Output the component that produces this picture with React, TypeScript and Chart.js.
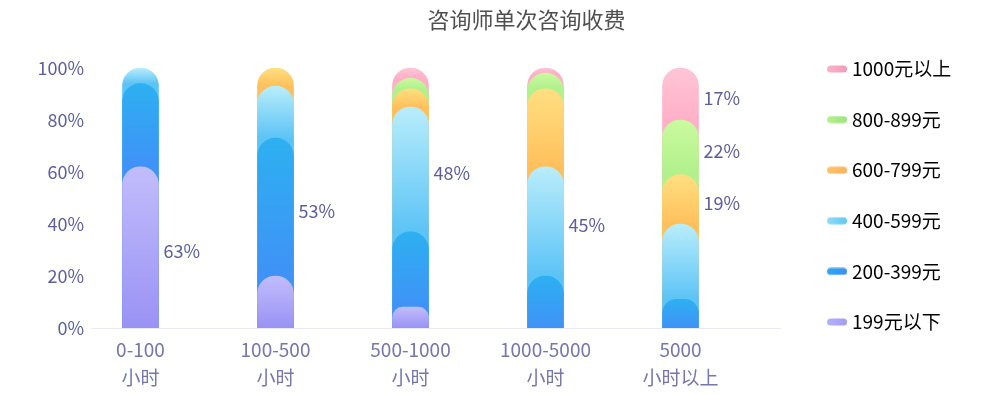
import React, { useEffect, useRef } from 'react';
import { Chart, registerables } from 'chart.js';

Chart.register(...registerables);

const FONT = "'Noto Sans CJK SC', 'Noto Sans', sans-serif";

// ---- data ----
const categories: string[][] = [
  ['0-100', '小时'],
  ['100-500', '小时'],
  ['500-1000', '小时'],
  ['1000-5000', '小时'],
  ['5000', '小时以上'],
];
const seriesNames = ['199元以下', '200-399元', '400-599元', '600-799元', '800-899元', '1000元以上'];
const under199 = [62, 20, 8, 0, 0];
const from200 = [32, 53, 29, 20, 11];
const from400 = [6, 20, 48, 42, 29];
const from600 = [0, 7, 7, 30, 19];
const from800 = [0, 0, 4, 6, 21];
const over1000 = [0, 0, 4, 2, 20];
const yTickStep = 20;
const yMax = 100;
const valueLabels = [
  { series: 0, category: 0, text: '63%' },
  { series: 1, category: 1, text: '53%' },
  { series: 2, category: 2, text: '48%' },
  { series: 2, category: 3, text: '45%' },
  { series: 5, category: 4, text: '17%' },
  { series: 4, category: 4, text: '22%' },
  { series: 3, category: 4, text: '19%' },
];

// ---- styles ----
const segmentColors: [string, string][] = [
  ['#c1bdfb', '#9a92f4'],
  ['#2db0f1', '#3f92f6'],
  ['#b9edfb', '#5cc3f6'],
  ['#ffdf80', '#ffc05c'],
  ['#c9fa9f', '#b1f08c'],
  ['#ffc5d7', '#ffb0c8'],
];
const legendColors: [string, string][] = [
  ['#b4b0f8', '#a29cf4'],
  ['#2fa6f3', '#3b90f4'],
  ['#8edcf8', '#62c6f4'],
  ['#ffc46a', '#fdb25c'],
  ['#b4f091', '#9de57a'],
  ['#f9b3c9', '#f39cb8'],
];

export default function App() {
  const ref = useRef<HTMLCanvasElement>(null);

  useEffect(() => {
    document.body.style.margin = '0';
    const canvas = ref.current!;
    const seriesValues = [under199, from200, from400, from600, from800, over1000];
    const cumulative = seriesValues.map((_, si) =>
      categories.map((__, ci) => seriesValues.slice(0, si + 1).reduce((a, s) => a + s[ci], 0))
    );

    // layout helpers
    const legendFontSize = 19;
    const mctx = document.createElement('canvas').getContext('2d')!;
    mctx.font = `${legendFontSize}px ${FONT}`;
    const tw = Math.max(...seriesNames.map((n) => mctx.measureText(n).width));
    const legendTextX = 852;
    const padR = Math.max(0, 990 - legendTextX - tw);
    const padL = padR + 53;
    const plotLeft = Math.max(88, padL);
    const yWidth = plotLeft - padL;
    const plotRight = 780;
    const legendPad = 31.6;
    const bw = legendTextX - legendPad - legendFontSize / 2 - plotRight;
    const imgCenter = plotRight + legendPad + bw / 2;
    const imgW = Math.max(22, Math.round(2 * (847 - imgCenter)));
    const firstCenter = 140.5;
    const step = 135;
    const xMin = -(firstCenter - plotLeft) / step;
    const xMax = xMin + (plotRight - plotLeft) / step;
    const barW = 36;

    const pills = legendColors.map(([c1, c2]) => {
      const cv = document.createElement('canvas');
      cv.width = imgW;
      cv.height = 8;
      const g = cv.getContext('2d')!;
      const grad = g.createLinearGradient(imgW - 20, 0, imgW, 0);
      grad.addColorStop(0, c1);
      grad.addColorStop(1, c2);
      g.fillStyle = grad;
      g.beginPath();
      (g as any).roundRect(imgW - 20, 0.5, 20, 7, 3.5);
      g.fill();
      return cv;
    });

    const labelPlugin = {
      id: 'valueLabels',
      afterDatasetsDraw(chart: any) {
        const { ctx } = chart;
        const xs = chart.scales.x;
        const ys = chart.scales.y;
        ctx.save();
        ctx.font = `18px ${FONT}`;
        ctx.fillStyle = '#5b5d9d';
        ctx.textAlign = 'left';
        ctx.textBaseline = 'middle';
        valueLabels.forEach((l) => {
          const top = ys.getPixelForValue(cumulative[l.series][l.category]);
          const bottom = ys.getPixelForValue(
            cumulative[l.series][l.category] - seriesValues[l.series][l.category]
          );
          const x = xs.getPixelForValue(l.category) + barW / 2 + 5;
          ctx.fillText(l.text, x, (top + bottom) / 2 + 4);
        });
        ctx.restore();
      },
    };

    const chart = new Chart(canvas, {
      type: 'bar',
      data: {
        datasets: seriesNames.map((name, si) => ({
          label: name,
          data: categories
            .map((_, ci) => ({ x: ci, y: cumulative[si][ci], v: seriesValues[si][ci] }))
            .filter((p) => p.v > 0),
          order: si,
          grouped: false,
          barThickness: barW,
          borderRadius: { topLeft: barW / 2, topRight: barW / 2, bottomLeft: 0, bottomRight: 0 },
          borderSkipped: false,
          borderWidth: 0,
          backgroundColor: (c: any) => {
            const ch = c.chart;
            const ys = ch.scales && ch.scales.y;
            if (!ch.chartArea || !ys || !c.raw) return segmentColors[si][0];
            const ci = c.raw.x;
            const top = ys.getPixelForValue(cumulative[si][ci]);
            const bottom = ys.getPixelForValue(cumulative[si][ci] - seriesValues[si][ci]);
            if (!isFinite(top) || !isFinite(bottom) || top === bottom) return segmentColors[si][0];
            const g = ch.ctx.createLinearGradient(0, top, 0, bottom);
            g.addColorStop(0, segmentColors[si][0]);
            g.addColorStop(1, segmentColors[si][1]);
            return g;
          },
        })) as any,
      },
      options: {
        responsive: false,
        animation: false,
        devicePixelRatio: 1,
        layout: { padding: { left: padL, right: padR, top: 0, bottom: 4 } },
        scales: {
          x: {
            type: 'linear',
            offset: false,
            min: xMin,
            max: xMax,
            grid: { display: false, drawTicks: false },
            border: { display: true, color: '#e9ebf3', width: 1 },
            afterBuildTicks: (s: any) => {
              s.ticks = categories.map((_, i) => ({ value: i }));
            },
            afterFit: (s: any) => {
              s.height = 63;
            },
            ticks: {
              autoSkip: false,
              maxRotation: 0,
              padding: 8,
              color: '#7577ad',
              font: { size: 19, family: FONT, lineHeight: 1.47 },
              callback: (v: any) => categories[Math.round(Number(v))] ?? '',
            },
          },
          y: {
            min: 0,
            max: yMax,
            grid: { display: false, drawTicks: false },
            border: { display: false },
            afterFit: (s: any) => {
              s.width = yWidth;
              // let the tick labels extend to the left of the (narrow) axis box
              s._computeLabelArea = () => undefined;
            },
            ticks: {
              stepSize: yTickStep,
              padding: plotLeft - 84,
              color: '#5d5f9d',
              font: { size: 18, family: FONT },
              callback: (v: any) => `${v}%`,
            },
          },
        },
        plugins: {
          tooltip: { enabled: false },
          title: {
            display: true,
            text: '咨询师单次咨询收费',
            color: '#4f4f4f',
            font: { size: 22, family: FONT, weight: 'normal' as any, lineHeight: 1.2 },
            padding: { top: 6.8, bottom: 34.8 },
          },
          legend: {
            position: 'right',
            align: 'center',
            reverse: true,
            labels: {
              usePointStyle: true,
              pointStyleWidth: bw,
              padding: legendPad,
              color: '#555555',
              font: { size: legendFontSize, family: FONT },
              generateLabels: (ch: any) =>
                ch.data.datasets.map((ds: any, i: number) => ({
                  text: ds.label,
                  pointStyle: pills[i],
                  datasetIndex: i,
                  fillStyle: 'rgba(0,0,0,0)',
                  strokeStyle: 'rgba(0,0,0,0)',
                  lineWidth: 0,
                  hidden: false,
                })),
            },
          },
        },
      },
      plugins: [labelPlugin],
    });

    return () => chart.destroy();
  }, []);

  return (
    <div style={{ width: 1000, height: 395, background: '#ffffff' }}>
      <canvas ref={ref} width={1000} height={395} style={{ display: 'block' }} />
    </div>
  );
}
